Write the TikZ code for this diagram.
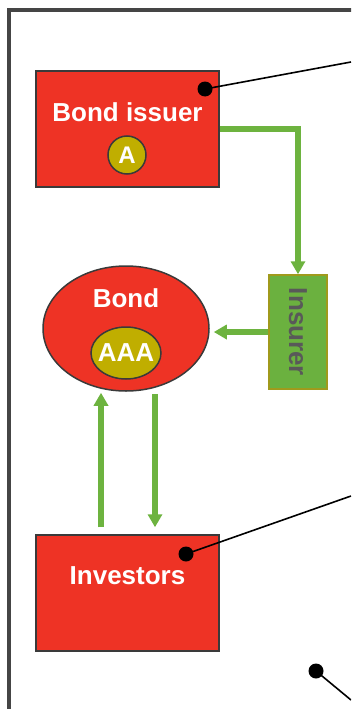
\documentclass[tikz,border=0pt]{standalone}
\usepackage{fontspec}
\setmainfont{Liberation Sans}
\usetikzlibrary{shapes.geometric,arrows.meta}
\definecolor{boxred}{HTML}{EE3325}
\definecolor{edgegray}{HTML}{3A3A3A}
\definecolor{olive}{HTML}{C0AE00}
\definecolor{insgreen}{HTML}{6BB13F}
\definecolor{insedge}{HTML}{A09A1C}
\definecolor{arrowgreen}{HTML}{6DB33F}
\definecolor{frame}{HTML}{454545}
\definecolor{instext}{HTML}{595959}
\tikzset{
  redbox/.style={draw=edgegray, line width=1.5pt, fill=boxred, rectangle, minimum width=183pt, minimum height=116pt, inner sep=0pt},
  lbl/.style={text=white, font=\fontsize{26}{26}\selectfont\bfseries, inner sep=0pt},
  flow/.style={draw=arrowgreen, line width=5.5pt, -{Triangle[width=14pt,length=13pt]}},
  pin/.style={draw=black, line width=1.6pt},
  pindot/.style={fill=black, circle, inner sep=0pt, minimum size=15pt},
}
\begin{document}
\begin{tikzpicture}[x=1pt,y=-1pt]
\useasboundingbox (0,0) rectangle (351,709);
\clip (0,0) rectangle (351,709);
% outer frame (cropped)
\draw[frame, line width=3.5pt] (9,10) rectangle (420,780);
% nodes
\node[redbox] (issuer) at (127.5,129) {};
\node[lbl] (issuerlbl) at (127.5,112) {Bond issuer};
\node[circle, draw=edgegray, line width=1.5pt, fill=olive, minimum size=38pt, inner sep=0pt, text=white, font=\fontsize{24}{24}\selectfont\bfseries] (ratingA) at (127,155) {A};
\node[rectangle, draw=insedge, line width=1.5pt, fill=insgreen, minimum width=58pt, minimum height=114pt, inner sep=0pt] (insurer) at (298,332) {};
\node[rotate=-90, text=instext, font=\fontsize{26}{26}\selectfont\bfseries, inner sep=0pt] (inslbl) at (298,332) {Insurer};
\node[ellipse, draw=edgegray, line width=1.5pt, fill=boxred, minimum width=166pt, minimum height=125pt, inner sep=0pt] (bond) at (126,328.5) {};
\node[lbl] (bondlbl) at (126,298) {Bond};
\node[ellipse, draw=edgegray, line width=1.5pt, fill=olive, minimum width=70pt, minimum height=52pt, inner sep=0pt] (aaa) at (126,353) {};
\node[lbl] (aaalbl) at (126,353) {AAA};
\node[redbox] (investors) at (127.5,593) {};
\node[lbl] (invlbl) at (127.5,576) {Investors};
% green flows
\draw[flow] (issuer.east) -| (insurer.north);
\draw[flow] (insurer.west) -- ([xshift=4pt]insurer.west -| bond.east);
\draw[flow] ([xshift=-26.5pt,yshift=7pt]investors.north) -- ([xshift=-25pt,yshift=-1pt]bond.south);
\draw[flow] ([xshift=29pt,yshift=-2pt]bond.south) -- ([xshift=27.5pt,yshift=7pt]investors.north);
% callout pins
\node[pindot] (dot1) at (205,89) {};
\node[pindot] (dot2) at (186,554) {};
\node[pindot] (dot3) at (316,671) {};
\coordinate (end1) at (351,62);
\coordinate (end2) at (351,496);
\coordinate (end3) at (351,700);
\draw[pin] (dot1.center) -- (end1);
\draw[pin] (dot2.center) -- (end2);
\draw[pin] (dot3.center) -- (end3);
\end{tikzpicture}
\end{document}
